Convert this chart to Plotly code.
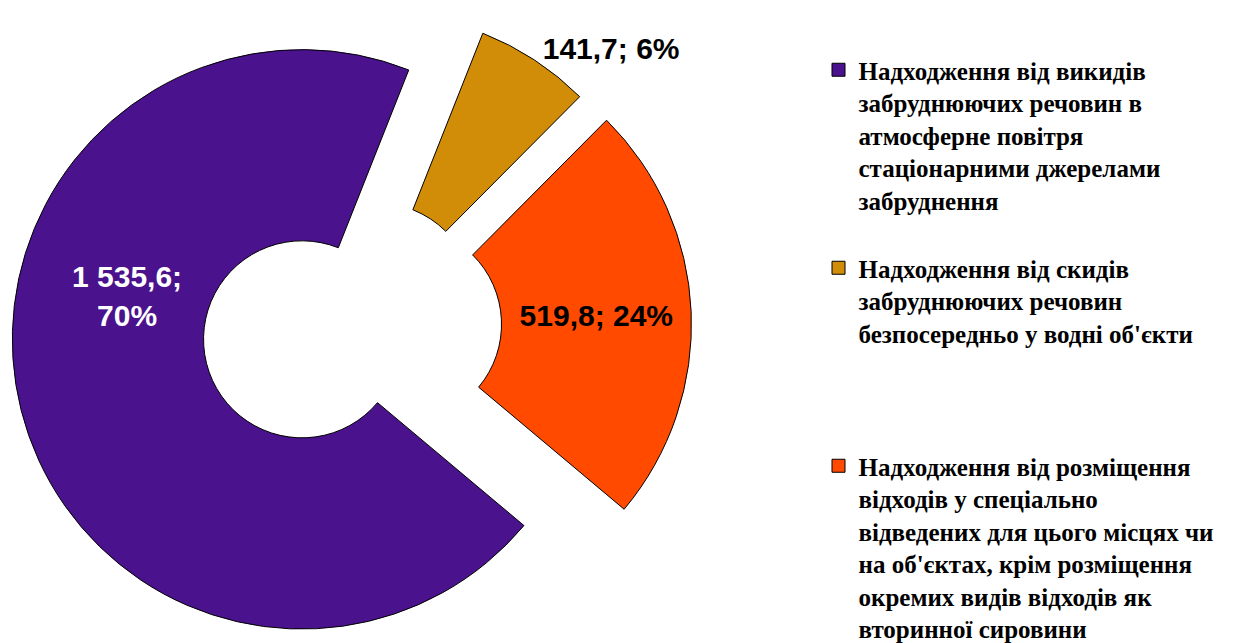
import math
import textwrap
import plotly.graph_objects as go

# ---------------- data ----------------
categories = [
    "Надходження від викидів забруднюючих речовин в атмосферне повітря стаціонарними джерелами забруднення",
    "Надходження від скидів забруднюючих речовин безпосередньо у водні об'єкти",
    "Надходження від розміщення відходів у спеціально відведених для цього місцях чи на об'єктах, крім розміщення окремих видів відходів як вторинної сировини",
]
values = [1535.6, 141.7, 519.8]

# ---------------- style ----------------
colors = ["#4A128C", "#D18C08", "#FF4A00"]
label_colors = ["white", "black", "black"]
label_sep = ["<br>", " ", " "]
text_positions = ["annotation", "outside", "inside"]
explode = [0.18, 0.15, 0.175]         # explosion of each slice, fraction of radius
radii = [292, 290, 290]               # outer radius of each slice (px)
legend_extra_lines = [1, 3, 0]        # spacing between legend entries

W, H = 1237, 643
CX, CY = 345, 316      # common centre of the doughnut (px, figure coords)
ROTATION = 130         # start angle of first slice, clockwise from 12 o'clock
HOLE = 0.34
TRANSPARENT = "rgba(0,0,0,0)"
LABEL_FONT = dict(family="Liberation Sans", size=30, weight="bold")


def fmt_value(v):
    return f"{v:,.1f}".replace(",", " ").replace(".", ",")


total = sum(values)
texts = [
    f"{fmt_value(v)};{sep}{round(100 * v / total)}%"
    for v, sep in zip(values, label_sep)
]

fig = go.Figure()

cum = 0.0
n = len(values)
for i, v in enumerate(values):
    R = radii[i]
    mid = math.radians(ROTATION + 360 * (cum + v / 2) / total)
    cum += v
    d = explode[i] * R
    cx = max(R, CX + d * math.sin(mid))
    cy = max(R, CY - d * math.cos(mid))   # keep the exploded slice inside the page
    dom_x = [max(0, (cx - R) / W), min(1, (cx + R) / W)]
    dom_y = [max(0, 1 - (cy + R) / H), min(1, 1 - (cy - R) / H)]
    pos = text_positions[i] if text_positions[i] != "annotation" else "none"
    fig.add_trace(go.Pie(
        values=values,
        labels=categories,
        sort=False,
        direction="clockwise",
        rotation=ROTATION,
        hole=HOLE,
        domain=dict(x=dom_x, y=dom_y),
        marker=dict(
            colors=[colors[j] if j == i else TRANSPARENT for j in range(n)],
            line=dict(color="black", width=[1 if j == i else 0 for j in range(n)]),
        ),
        text=[texts[j] if j == i else "" for j in range(n)],
        textinfo="text",
        textposition=[pos if j == i else "none" for j in range(n)],
        insidetextorientation="horizontal",
        textfont=dict(**LABEL_FONT, color=label_colors[i]),
        showlegend=False,
        hoverinfo="skip",
    ))
    if text_positions[i] == "annotation":
        # label of the large slice sits in its upper-left part, as in the original
        fig.add_annotation(
            x=119 / W, y=1 - 285 / H, xref="paper", yref="paper",
            xanchor="center", yanchor="middle",
            text=texts[i], showarrow=False, align="center",
            font=dict(**LABEL_FONT, color=label_colors[i]),
        )

# legend entries
for i, cat in enumerate(categories):
    name = "<br>".join(textwrap.wrap(cat, width=30)) + "<br> " * legend_extra_lines[i]
    fig.add_trace(go.Scatter(
        x=[None], y=[None], mode="markers",
        marker=dict(symbol="square", size=13, color=colors[i],
                    line=dict(color="black", width=1)),
        name=name, legendgroup=f"g{i}", showlegend=True, hoverinfo="skip",
    ))

fig.update_layout(
    width=W, height=H,
    margin=dict(l=0, r=0, t=0, b=0),
    paper_bgcolor="white", plot_bgcolor="white",
    xaxis=dict(visible=False), yaxis=dict(visible=False),
    legend=dict(
        x=810.5 / W, xanchor="left", y=1 - 40 / H, yanchor="top",
        valign="top", traceorder="grouped", tracegroupgap=0,
        font=dict(family="Liberation Serif", size=25, color="black", weight="bold"),
        bgcolor="rgba(0,0,0,0)",
    ),
)

fig.write_html("out.html")
